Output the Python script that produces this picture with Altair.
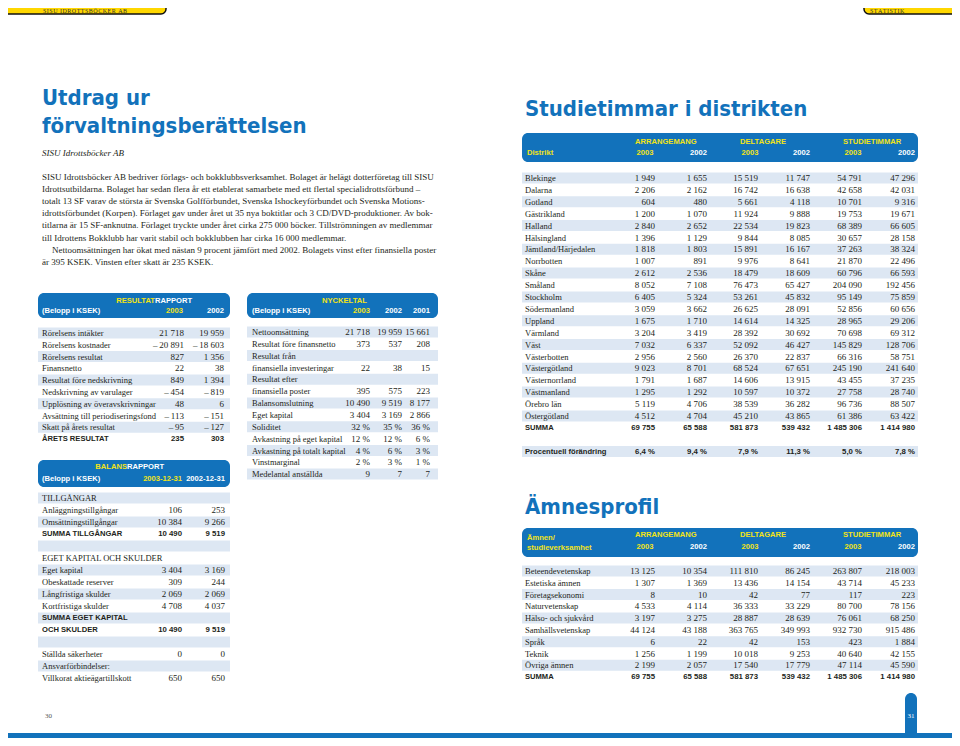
import altair as alt
import pandas as pd

# ---------------- data ----------------
tab_left = "SISU IDROTTSBÖCKER AB"
tab_right = "STATISTIK"
title_left = ["Utdrag ur", "förvaltningsberättelsen"]
subtitle_left = "SISU Idrottsböcker AB"
paragraph = [
    "SISU Idrottsböcker AB bedriver förlags- och bokklubbsverksamhet. Bolaget är helägt dotterföretag till SISU",
    "Idrottsutbildarna. Bolaget har sedan flera år ett etablerat samarbete med ett flertal specialidrottsförbund –",
    "totalt 13 SF varav de största är Svenska Golfförbundet, Svenska Ishockeyförbundet och Svenska Motions-",
    "idrottsförbundet (Korpen). Förlaget gav under året ut 35 nya boktitlar och 3 CD/DVD-produktioner. Av bok-",
    "titlarna är 15 SF-anknutna. Förlaget tryckte under året cirka 275 000 böcker. Tillströmningen av medlemmar",
    "till Idrottens Bokklubb har varit stabil och bokklubben har cirka 16 000 medlemmar.",
    "Nettoomsättningen har ökat med nästan 9 procent jämfört med 2002. Bolagets vinst efter finansiella poster",
    "är 395 KSEK. Vinsten efter skatt är 235 KSEK.",
]
paragraph_indent = [0, 0, 0, 0, 0, 0, 1, 0]

res_labels = ["Rörelsens intäkter", "Rörelsens kostnader", "Rörelsens resultat", "Finansnetto",
              "Resultat före nedskrivning", "Nedskrivning av varulager", "Upplösning av överavskrivningar",
              "Avsättning till periodiseringsfond", "Skatt på årets resultat", "ÅRETS RESULTAT"]
res_2003 = [21718, -20891, 827, 22, 849, -454, 48, -113, -95, 235]
res_2002 = [19959, -18603, 1356, 38, 1394, -819, 6, -151, -127, 303]
res_bold = [9]

bal_labels = ["TILLGÅNGAR", "Anläggningstillgångar", "Omsättningstillgångar", "SUMMA TILLGÅNGAR", "",
              "EGET KAPITAL OCH SKULDER", "Eget kapital", "Obeskattade reserver", "Långfristiga skulder",
              "Kortfristiga skulder", "SUMMA EGET KAPITAL", "OCH SKULDER", "", "Ställda säkerheter",
              "Ansvarförbindelser:", "Villkorat aktieägartillskott"]
bal_2003 = [None, 106, 10384, 10490, None, None, 3404, 309, 2069, 4708, None, 10490, None, 0, None, 650]
bal_2002 = [None, 253, 9266, 9519, None, None, 3169, 244, 2069, 4037, None, 9519, None, 0, None, 650]
bal_bold = [3, 10, 11]

nyc_labels = ["Nettoomsättning", "Resultat före finansnetto", "Resultat från", "finansiella investeringar",
              "Resultat efter", "finansiella poster", "Balansomslutning", "Eget kapital", "Soliditet",
              "Avkastning på eget kapital", "Avkastning på totalt kapital", "Vinstmarginal",
              "Medelantal anställda"]
nyc_2003 = [21718, 373, None, 22, None, 395, 10490, 3404, 32, 12, 4, 2, 9]
nyc_2002 = [19959, 537, None, 38, None, 575, 9519, 3169, 35, 12, 6, 3, 7]
nyc_2001 = [15661, 208, None, 15, None, 223, 8177, 2866, 36, 6, 3, 1, 7]
nyc_unit = ["", "", "", "", "", "", "", "", "%", "%", "%", "%", ""]

group_titles = ["ARRANGEMANG", "DELTAGARE", "STUDIETIMMAR"]
years = ["2003", "2002"]

districts = ["Blekinge", "Dalarna", "Gotland", "Gästrikland", "Halland", "Hälsingland",
             "Jämtland/Härjedalen", "Norrbotten", "Skåne", "Småland", "Stockholm", "Södermanland",
             "Uppland", "Värmland", "Väst", "Västerbotten", "Västergötland", "Västernorrland",
             "Västmanland", "Örebro län", "Östergötland"]
arr_2003 = [1949, 2206, 604, 1200, 2840, 1396, 1818, 1007, 2612, 8052, 6405, 3059, 1675, 3204, 7032,
            2956, 9023, 1791, 1295, 5119, 4512]
arr_2002 = [1655, 2162, 480, 1070, 2652, 1129, 1803, 891, 2536, 7108, 5324, 3662, 1710, 3419, 6337,
            2560, 8701, 1687, 1292, 4706, 4704]
del_2003 = [15519, 16742, 5661, 11924, 22534, 9844, 15891, 9976, 18479, 76473, 53261, 26625, 14614,
            28392, 52092, 26370, 68524, 14606, 10597, 38539, 45210]
del_2002 = [11747, 16638, 4118, 9888, 19823, 8085, 16167, 8641, 18609, 65427, 45832, 28091, 14325,
            30692, 46427, 22837, 67651, 13915, 10372, 36282, 43865]
stu_2003 = [54791, 42658, 10701, 19753, 68389, 30657, 37263, 21870, 60796, 204090, 95149, 52856, 28965,
            70698, 145829, 66316, 245190, 43455, 27758, 96736, 61386]
stu_2002 = [47296, 42031, 9316, 19671, 66605, 28158, 38324, 22496, 66593, 192456, 75859, 60656, 29206,
            69312, 128706, 58751, 241640, 37235, 28740, 88507, 63422]
summa = [69755, 65588, 581873, 539432, 1485306, 1414980]
pct_change = [6.4, 9.4, 7.9, 11.3, 5.0, 7.8]

subjects = ["Beteendevetenskap", "Estetiska ämnen", "Företagsekonomi", "Naturvetenskap",
            "Hälso- och sjukvård", "Samhällsvetenskap", "Språk", "Teknik", "Övriga ämnen"]
sub_arr_2003 = [13125, 1307, 8, 4533, 3197, 44124, 6, 1256, 2199]
sub_arr_2002 = [10354, 1369, 10, 4114, 3275, 43188, 22, 1199, 2057]
sub_del_2003 = [111810, 13436, 42, 36333, 28887, 363765, 42, 10018, 17540]
sub_del_2002 = [86245, 14154, 77, 33229, 28639, 349993, 153, 9253, 17779]
sub_stu_2003 = [263807, 43714, 117, 80700, 76061, 932730, 423, 40640, 47114]
sub_stu_2002 = [218003, 45233, 223, 78156, 68250, 915486, 1884, 42155, 45590]

page_numbers = ["30", "31"]

# ---------------- styling ----------------
BLUE = "#1272bb"
STRIPE = "#dde7f3"
YELLOW = "#f2e417"
TABYEL = "#ffd700"
INK = "#231f20"
SERIF = "Liberation Serif"
SANS = "Liberation Sans"
DISPLAY = "DejaVu Sans Condensed, DejaVu Sans"

STYLES = {
    "body": dict(font=SERIF, fontSize=9.0, color=INK),
    "italic": dict(font=SERIF, fontSize=9, color=INK, fontStyle="italic"),
    "lab": dict(font=SERIF, fontSize=8.5, color=INK),
    "num": dict(font=SERIF, fontSize=9.0, color=INK, align="right"),
    "blab": dict(font=SANS, fontSize=7.6, color=INK, fontWeight="bold"),
    "bnum": dict(font=SANS, fontSize=7.8, color=INK, fontWeight="bold", align="right"),
    "hw": dict(font=SANS, fontSize=7.6, color="white", fontWeight="bold"),
    "hwr": dict(font=SANS, fontSize=7.6, color="white", fontWeight="bold", align="right"),
    "hy": dict(font=SANS, fontSize=7.6, color=YELLOW, fontWeight="bold"),
    "hyr": dict(font=SANS, fontSize=7.6, color=YELLOW, fontWeight="bold", align="right"),
    "title": dict(font=DISPLAY, fontSize=22, color=BLUE, fontWeight="bold", baseline="alphabetic"),
    "tab": dict(font=SERIF, fontSize=6, color="#333333"),
    "pg": dict(font=SERIF, fontSize=7, color="#555555"),
    "pgw": dict(font=SERIF, fontSize=7, color="white", align="center"),
}


def fmt(v, unit=""):
    if v is None:
        return ""
    if isinstance(v, float):
        s = f"{abs(v):.1f}".replace(".", ",")
    else:
        s = f"{abs(v):,}".replace(",", " ")
    if unit:
        s += " " + unit
    return ("–\u2009" if v < 0 else "") + s


texts = []
rects = []


def add(x, y, t, s):
    texts.append(dict(x=x, y=y, t=t, s=s))


def box(x, x2, y, y2, fill, kind):
    rects.append(dict(x=x, x2=x2, y=y, y2=y2, fill=fill, k=kind))


def spaced(s):
    return "\u200a".join(list(s))


# top tabs
box(-4, 166, -6, 14, TABYEL, "tab")
box(864, 970, -6, 14, TABYEL, "tab")
add(43, 10.5, spaced(tab_left), "tab")
add(870, 10.5, spaced(tab_right), "tab")

# left titles
add(42, 105, title_left[0], "title")
add(42, 133, title_left[1], "title")
add(42, 153, subtitle_left, "italic")
for i, line in enumerate(paragraph):
    add(42 + 10 * paragraph_indent[i], 176.5 + i * 12.2, line, "body")


def table(labels, cols, lx, cx, y0, step, sx, bold, units=None):
    for i, lab in enumerate(labels):
        y = y0 + i * step
        if i % 2 == 0:
            box(sx[0], sx[1], y - 5.6, y + 5.4, STRIPE, "plain")
        b = i in bold
        if lab:
            add(lx, y, lab, "blab" if b else "lab")
        for c, vals in enumerate(cols):
            v = vals[i]
            if v is not None:
                add(cx[c], y, fmt(v, units[i] if units else ""), "bnum" if b else "num")


# RESULTATRAPPORT
box(38, 230, 293, 318, BLUE, "round")
add(155, 300.5, "RESULTAT", "hyr")
add(155, 300.5, "RAPPORT", "hw")
add(42, 311, "(Belopp i KSEK)", "hw")
add(183, 311, years[0], "hyr")
add(224, 311, years[1], "hwr")
table(res_labels, [res_2003, res_2002], 42, [184, 224], 333, 11.8, (38, 230), res_bold)

# BALANSRAPPORT
box(38, 230, 460, 487, BLUE, "round")
add(127, 467, "BALANS", "hyr")
add(127, 467, "RAPPORT", "hw")
add(42, 479, "(Belopp i KSEK)", "hw")
add(182, 479, "2003-12-31", "hyr")
add(225, 479, "2002-12-31", "hwr")
table(bal_labels, [bal_2003, bal_2002], 42, [182, 225], 498, 12.0, (38, 230), bal_bold)

# NYCKELTAL
box(247, 438, 293, 318, BLUE, "round")
add(322, 300.5, "NYCKELTAL", "hy")
add(252, 310.5, "(Belopp i KSEK)", "hw")
add(370, 310.5, "2003", "hyr")
add(402, 310.5, "2002", "hwr")
add(430, 310.5, "2001", "hwr")
table(nyc_labels, [nyc_2003, nyc_2002, nyc_2001], 252, [370, 402, 430], 332, 11.85, (247, 438), [], nyc_unit)

# right page
COLS = [655, 707, 758, 810, 862, 915]
GROUP_X = [635, 740, 843]


def right_header(y_top, y_bot, y1, y2):
    box(522, 918, y_top, y_bot, BLUE, "round")
    for g, gt in enumerate(group_titles):
        add(GROUP_X[g], y1, gt, "hy")
        add(GROUP_X[g] + 1.5, y2, years[0], "hy")
        add(COLS[2 * g + 1], y2, years[1], "hwr")


add(525, 116, "Studietimmar i distrikten", "title")
right_header(133, 162, 142, 153)
add(527, 153, "Distrikt", "hy")
table(districts + ["SUMMA"],
      [arr_2003 + [summa[0]], arr_2002 + [summa[1]], del_2003 + [summa[2]],
       del_2002 + [summa[3]], stu_2003 + [summa[4]], stu_2002 + [summa[5]]],
      525, COLS, 178, 11.9, (522, 918), [21])
y_pct = 178 + 23 * 11.9
box(522, 918, y_pct - 5.6, y_pct + 5.4, STRIPE, "plain")
add(525, y_pct, "Procentuell förändring", "blab")
for c, v in enumerate(pct_change):
    add(COLS[c], y_pct, fmt(v, "%"), "bnum")

add(525, 514, "Ämnesprofil", "title")
right_header(528, 557, 535, 547)
add(527, 538, "Ämnen/", "hy")
add(527, 547.5, "studieverksamhet", "hy")
table(subjects + ["SUMMA"],
      [sub_arr_2003 + [summa[0]], sub_arr_2002 + [summa[1]], sub_del_2003 + [summa[2]],
       sub_del_2002 + [summa[3]], sub_stu_2003 + [summa[4]], sub_stu_2002 + [summa[5]]],
      525, COLS, 571, 11.8, (522, 918), [9])

# bottom
box(-4, 970, 733, 750, BLUE, "plain")
box(905, 917, 693, 750, BLUE, "round")
add(45, 716, page_numbers[0], "pg")
add(911, 716, page_numbers[1], "pgw")

# ---------------- chart ----------------
XS = alt.Scale(domain=[8, 952], nice=False, zero=False)
YS = alt.Scale(domain=[8, 738], nice=False, zero=False, reverse=True)

rdf = pd.DataFrame(rects)
tdf = pd.DataFrame(texts)

layers = []
for kind, extra in [("plain", {}), ("round", dict(cornerRadius=6)),
                    ("tab", dict(cornerRadius=5, stroke="#111111", strokeWidth=1.5))]:
    sub = rdf[rdf.k == kind]
    if len(sub):
        layers.append(alt.Chart(sub).mark_rect(**extra).encode(
            x=alt.X("x:Q", scale=XS, axis=None), x2="x2:Q",
            y=alt.Y("y:Q", scale=YS, axis=None), y2="y2:Q",
            color=alt.Color("fill:N", scale=None)))

for name, props in STYLES.items():
    sub = tdf[tdf.s == name]
    if not len(sub):
        continue
    p = dict(baseline="middle", align="left")
    p.update(props)
    layers.append(alt.Chart(sub).mark_text(**p).encode(
        x=alt.X("x:Q", scale=XS, axis=None),
        y=alt.Y("y:Q", scale=YS, axis=None),
        text="t:N"))

chart = alt.layer(*layers).properties(
    width=944, height=730, padding=0, autosize=alt.AutoSizeParams(type="none")
).configure_view(stroke=None)

chart.save("out.html", embed_options={"renderer": "svg", "actions": False})
